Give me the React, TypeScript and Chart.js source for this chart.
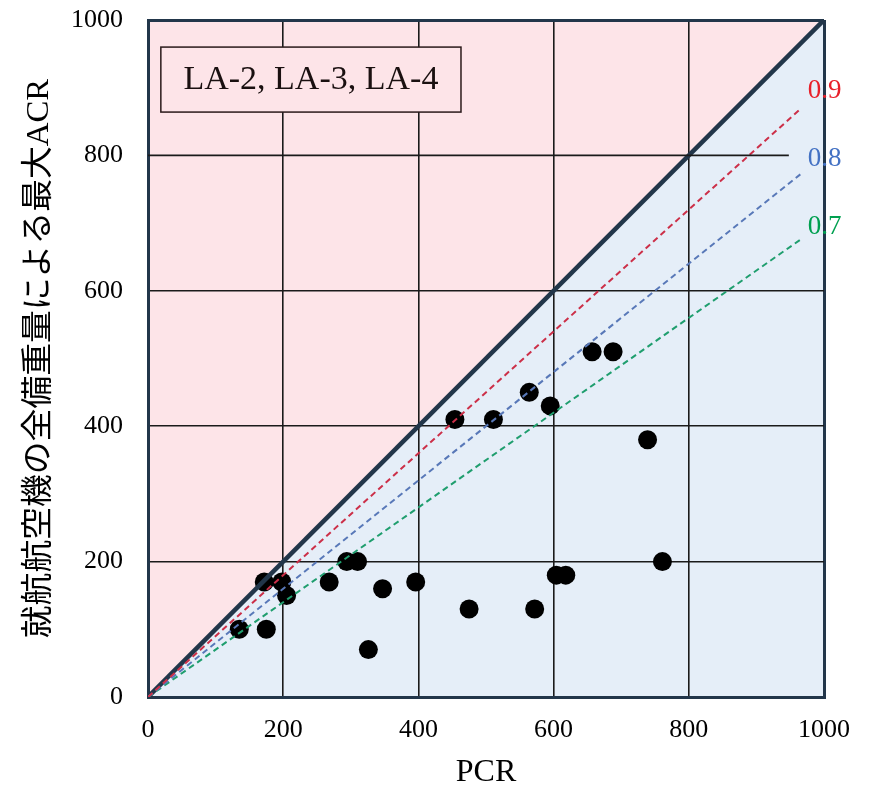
import { useEffect, useRef } from 'react';
import { Chart, registerables } from 'chart.js';

Chart.register(...registerables);

// ---- data ----
const pcr = [135, 175, 172, 198, 205, 268, 294, 310, 326, 347, 396, 454, 475, 511, 564, 572, 595, 604, 618, 657, 688, 739, 761];
const acr = [100, 100, 170, 170, 150, 170, 200, 200, 70, 160, 170, 410, 130, 410, 450, 130, 430, 180, 180, 510, 510, 380, 200];
const ratios = [0.9, 0.8, 0.7];
const ratioLabels = ['0.9', '0.8', '0.7'];
const ratioTextColors = ['#e8202a', '#4472c4', '#00a050'];
const ratioLineColors = ['#cc2f48', '#5878b8', '#1f9e6e'];
const ratioLineEnd = 965;
const axisMin = 0;
const axisMax = 1000;
const axisStep = 200;
const partialGridY = 800;
const partialGridEnd = 948;
const xTitle = 'PCR';
const yTitle = '就航航空機の全備重量による最大ACR';
const legendText = 'LA-2, LA-3, LA-4';

const SERIF = "'Liberation Serif', 'Times New Roman', serif";
const PINK = '#fde4e8';
const BLUE = '#e5eef8';
const NAVY = '#22364a';
const GRID = '#1a1a1a';

const annotations = {
  id: 'annotations',
  afterDatasetsDraw(chart: any) {
    const { ctx, scales } = chart;
    const xs = scales.x;
    const ys = scales.y;
    ctx.save();
    // legend-like box
    const bx0 = xs.getPixelForValue(19);
    const bx1 = xs.getPixelForValue(463);
    const by0 = ys.getPixelForValue(960);
    const by1 = ys.getPixelForValue(864);
    ctx.fillStyle = PINK;
    ctx.fillRect(bx0, by0, bx1 - bx0, by1 - by0);
    ctx.strokeStyle = '#2a1a1a';
    ctx.lineWidth = 1.5;
    ctx.strokeRect(bx0, by0, bx1 - bx0, by1 - by0);
    ctx.fillStyle = '#1a1010';
    ctx.font = `34px ${SERIF}`;
    ctx.textAlign = 'center';
    ctx.textBaseline = 'middle';
    ctx.fillText(legendText, (bx0 + bx1) / 2, (by0 + by1) / 2 + 1);
    // ratio labels
    ctx.font = `27px ${SERIF}`;
    ctx.textAlign = 'left';
    ratios.forEach((r, i) => {
      ctx.fillStyle = ratioTextColors[i];
      ctx.fillText(ratioLabels[i], xs.getPixelForValue(976), ys.getPixelForValue(r * 1000 - 5));
    });
    ctx.restore();
  },
  afterDraw(chart: any) {
    const { ctx, chartArea } = chart;
    ctx.save();
    ctx.fillStyle = '#000';
    ctx.font = `32px ${SERIF}`;
    ctx.textAlign = 'center';
    ctx.textBaseline = 'middle';
    ctx.fillText(xTitle, (chartArea.left + chartArea.right) / 2, 773);
    ctx.translate(40, (chartArea.top + chartArea.bottom) / 2);
    ctx.rotate(-Math.PI / 2);
    ctx.scale(1.025, 1);
    ctx.font = `32px 'Liberation Serif', 'Noto Sans CJK JP', sans-serif`;
    ctx.fillText(yTitle, 0, 0);
    ctx.restore();
  },
};

export default function App() {
  const ref = useRef<HTMLCanvasElement | null>(null);
  useEffect(() => {
    if (!ref.current) return;
    const diag = [{ x: axisMin, y: axisMin }, { x: axisMax, y: axisMax }];
    const gridColor = (c: any, axis: string) => {
      const v = c.tick?.value;
      if (v === axisMin || v === axisMax) return NAVY;
      if (axis === 'y' && v === partialGridY) return 'rgba(0,0,0,0)';
      return GRID;
    };
    const gridWidth = (c: any) => {
      const v = c.tick?.value;
      return v === axisMin || v === axisMax ? 3 : 1.6;
    };
    const tickCb = (v: any) => String(v);
    const chart = new Chart(ref.current, {
      type: 'scatter',
      data: {
        datasets: [
          { type: 'line', data: diag, borderWidth: 0, pointRadius: 0, fill: 'end', backgroundColor: PINK, borderColor: 'rgba(0,0,0,0)' } as any,
          { type: 'line', data: diag, borderWidth: 0, pointRadius: 0, fill: 'start', backgroundColor: BLUE, borderColor: 'rgba(0,0,0,0)' } as any,
          { type: 'line', data: [{ x: axisMin, y: partialGridY }, { x: partialGridEnd, y: partialGridY }], borderColor: GRID, borderWidth: 1.6, pointRadius: 0, fill: false } as any,
          ...ratios.map((r, i) => ({
            type: 'line',
            data: [{ x: 0, y: 0 }, { x: ratioLineEnd, y: r * ratioLineEnd }],
            borderColor: ratioLineColors[i],
            borderWidth: 2,
            borderDash: [6, 4],
            pointRadius: 0,
            fill: false,
          })) as any,
          { type: 'line', data: diag, borderColor: NAVY, borderWidth: 4.5, pointRadius: 0, fill: false } as any,
          {
            type: 'scatter',
            data: pcr.map((x, i) => ({ x, y: acr[i] })),
            backgroundColor: '#000',
            borderWidth: 0,
            pointRadius: 9.5,
          } as any,
        ],
      },
      options: {
        animation: false,
        responsive: true,
        maintainAspectRatio: false,
        layout: { padding: { top: 0, right: 48, left: 0, bottom: 0 } },
        plugins: {
          legend: { display: false },
          tooltip: { enabled: false },
          filler: { drawTime: 'beforeDraw' },
        } as any,
        scales: {
          x: {
            type: 'linear',
            min: axisMin,
            max: axisMax,
            ticks: { stepSize: axisStep, color: '#000', font: { family: SERIF, size: 26 }, padding: 18, maxRotation: 0, callback: tickCb },
            grid: { color: (c: any) => gridColor(c, 'x'), lineWidth: gridWidth, drawTicks: false },
            border: { color: NAVY, width: 3 },
            afterFit: (s: any) => { s.height = 90; },
          },
          y: {
            type: 'linear',
            min: axisMin,
            max: axisMax,
            ticks: { stepSize: axisStep, color: '#000', font: { family: SERIF, size: 26 }, padding: 25, callback: tickCb },
            grid: { color: (c: any) => gridColor(c, 'y'), lineWidth: gridWidth, drawTicks: false },
            border: { color: NAVY, width: 3 },
            afterFit: (s: any) => { s.width = 148; s.paddingTop = 20; s.paddingBottom = 0; },
          },
        },
      },
      plugins: [annotations],
    });
    return () => chart.destroy();
  }, []);
  return (
    <div style={{ position: 'fixed', left: 0, top: 0, width: 872, height: 787, background: '#fff' }}>
      <canvas ref={ref} />
    </div>
  );
}
